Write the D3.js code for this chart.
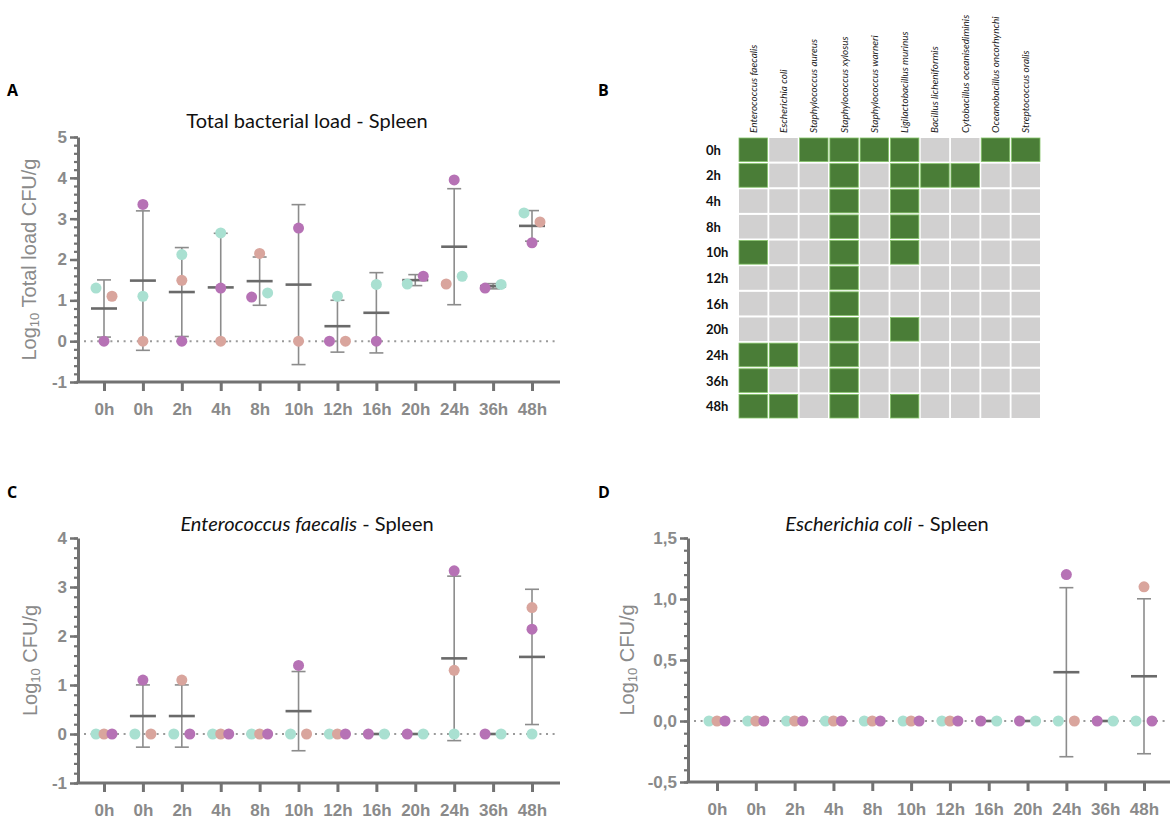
<!DOCTYPE html>
<html>
<head>
<meta charset="utf-8">
<script src="https://cdn.jsdelivr.net/npm/d3@7"></script>
<style>
  body { margin: 0; background: #fff; }
</style>
</head>
<body>
<script>
// x categories shared by the three dot plots
var timeLabels = ["0h", "0h", "2h", "4h", "8h", "10h", "12h", "16h", "20h", "24h", "36h", "48h"];

// each category: points as [group, log10 value], listed left to right
var totalLoad = [
  [["teal", 1.3], ["purple", 0], ["salmon", 1.1]],
  [["teal", 1.1], ["salmon", 0], ["purple", 3.35]],
  [["teal", 2.12], ["salmon", 1.49], ["purple", 0]],
  [["teal", 2.65], ["purple", 1.3], ["salmon", 0]],
  [["purple", 1.08], ["salmon", 2.15], ["teal", 1.18]],
  [["purple", 2.77], ["salmon", 0]],
  [["purple", 0], ["teal", 1.1], ["salmon", 0]],
  [["teal", 1.39], ["purple", 0]],
  [["teal", 1.4], ["purple", 1.59]],
  [["salmon", 1.4], ["purple", 3.95], ["teal", 1.59]],
  [["purple", 1.3], ["teal", 1.39]],
  [["teal", 3.14], ["purple", 2.41], ["salmon", 2.92]]
];

var faecalis = [
  [["teal", 0], ["salmon", 0], ["purple", 0]],
  [["teal", 0], ["purple", 1.1], ["salmon", 0]],
  [["teal", 0], ["salmon", 1.1], ["purple", 0]],
  [["teal", 0], ["salmon", 0], ["purple", 0]],
  [["teal", 0], ["salmon", 0], ["purple", 0]],
  [["teal", 0], ["purple", 1.4], ["salmon", 0]],
  [["teal", 0], ["salmon", 0], ["purple", 0]],
  [["purple", 0], ["teal", 0]],
  [["purple", 0], ["teal", 0]],
  [["teal", 0], ["salmon", 1.3], ["purple", 3.33]],
  [["purple", 0], ["teal", 0]],
  [["teal", 0], ["purple", 2.14], ["salmon", 2.58]]
];

var coli = [
  [["teal", 0], ["salmon", 0], ["purple", 0]],
  [["teal", 0], ["salmon", 0], ["purple", 0]],
  [["teal", 0], ["salmon", 0], ["purple", 0]],
  [["teal", 0], ["salmon", 0], ["purple", 0]],
  [["teal", 0], ["salmon", 0], ["purple", 0]],
  [["teal", 0], ["salmon", 0], ["purple", 0]],
  [["teal", 0], ["salmon", 0], ["purple", 0]],
  [["purple", 0], ["teal", 0]],
  [["purple", 0], ["teal", 0]],
  [["teal", 0], ["purple", 1.2], ["salmon", 0]],
  [["purple", 0], ["teal", 0]],
  [["teal", 0], ["salmon", 1.1], ["purple", 0]]
];

// heatmap (panel B)
var species = ["Enterococcus faecalis", "Escherichia coli", "Staphylococcus aureus",
  "Staphylococcus xylosus", "Staphylococcus warneri", "Ligilactobacillus murinus",
  "Bacillus licheniformis", "Cytobacillus oceanisediminis", "Oceanobacillus oncorhynchi",
  "Streptococcus oralis"];
var heatRows = ["0h", "2h", "4h", "8h", "10h", "12h", "16h", "20h", "24h", "36h", "48h"];
var presence = [
  [1, 0, 1, 1, 1, 1, 0, 0, 1, 1],
  [1, 0, 0, 1, 0, 1, 1, 1, 0, 0],
  [0, 0, 0, 1, 0, 1, 0, 0, 0, 0],
  [0, 0, 0, 1, 0, 1, 0, 0, 0, 0],
  [1, 0, 0, 1, 0, 1, 0, 0, 0, 0],
  [0, 0, 0, 1, 0, 0, 0, 0, 0, 0],
  [0, 0, 0, 1, 0, 0, 0, 0, 0, 0],
  [0, 0, 0, 1, 0, 1, 0, 0, 0, 0],
  [1, 1, 0, 1, 0, 0, 0, 0, 0, 0],
  [1, 0, 0, 1, 0, 0, 0, 0, 0, 0],
  [1, 1, 0, 1, 0, 1, 0, 0, 0, 0]
];

var dotColor = { teal: "#a9e0d1", salmon: "#d9a59d", purple: "#b672b5" };
var axisGrey = "#727272";
var labelGrey = "#8a8a8a";

var svg = d3.select("body").append("svg")
  .attr("width", 1172)
  .attr("height", 826);

// panel letters
[["A", 7, 96], ["B", 598, 96], ["C", 7, 498], ["D", 598, 498]].forEach(function(p) {
  svg.append("text").attr("x", p[1]).attr("y", p[2])
    .style("font-family", "'Open Sans', sans-serif").style("font-weight", 700)
    .style("font-size", "16px").text(p[0]);
});

function drawDotPanel(opt) {
  var g = svg.append("g");
  var x = d3.scalePoint().domain(d3.range(timeLabels.length)).range(opt.xRange);
  var y = d3.scaleLinear().domain(opt.yDomain).range(opt.yRange);
  var bottom = opt.yRange[0];

  // title
  var title = g.append("text")
    .attr("x", opt.titleX).attr("y", opt.titleY)
    .attr("text-anchor", "middle")
    .style("font-family", "Lato, sans-serif").style("font-size", "20px").style("fill", "#111");
  opt.title.forEach(function(part) {
    title.append("tspan").style("font-style", part[1] ? "italic" : "normal").text(part[0]);
  });

  // y axis label
  var yl = g.append("text")
    .attr("transform", "translate(" + opt.yLabelX + "," + ((opt.yRange[0] + opt.yRange[1]) / 2) + ") rotate(-90)")
    .attr("text-anchor", "middle")
    .attr("dominant-baseline", "central")
    .style("font-family", "'Liberation Sans', Arial, sans-serif")
    .style("font-size", "20px").style("fill", labelGrey);
  yl.append("tspan").text("Log");
  yl.append("tspan").attr("dy", 5).style("font-size", "13px").text("10");
  yl.append("tspan").attr("dy", -5).text(" " + opt.yLabel);

  // dotted zero line
  g.append("line")
    .attr("x1", opt.left + 6).attr("x2", opt.right - 4)
    .attr("y1", y(0)).attr("y2", y(0))
    .attr("stroke", "#9a9a9a").attr("stroke-width", 2)
    .attr("stroke-dasharray", "2,4.6");

  // minor + major y ticks
  g.append("g").attr("transform", "translate(" + opt.left + ",0)")
    .call(d3.axisLeft(y).tickValues(opt.minorTicks).tickSize(4).tickSizeOuter(0).tickFormat(""))
    .call(function(a) { a.select(".domain").remove(); })
    .selectAll("line").attr("stroke", axisGrey).attr("stroke-width", 2.2);

  var yAxis = g.append("g").attr("transform", "translate(" + opt.left + ",0)")
    .call(d3.axisLeft(y).tickValues(opt.majorTicks).tickSize(8).tickSizeOuter(0)
      .tickPadding(3).tickFormat(opt.format));
  yAxis.select(".domain").attr("stroke", axisGrey).attr("stroke-width", 3);
  yAxis.selectAll(".tick line").attr("stroke", axisGrey).attr("stroke-width", 2.5);
  yAxis.selectAll("text")
    .style("font-family", "'Liberation Sans', Arial, sans-serif")
    .style("font-size", "17px").style("font-weight", 700).style("fill", labelGrey);

  // x axis
  g.append("line")
    .attr("x1", opt.left - 1.5).attr("x2", opt.right)
    .attr("y1", bottom).attr("y2", bottom)
    .attr("stroke", axisGrey).attr("stroke-width", 3);
  var xAxis = g.append("g").attr("transform", "translate(0," + bottom + ")")
    .call(d3.axisBottom(x).tickSize(9).tickSizeOuter(0).tickPadding(12)
      .tickFormat(function(i) { return timeLabels[i]; }));
  xAxis.select(".domain").remove();
  xAxis.selectAll(".tick line").attr("stroke", axisGrey).attr("stroke-width", 3);
  xAxis.selectAll("text")
    .style("font-family", "'Liberation Sans', Arial, sans-serif")
    .style("font-size", "17px").style("font-weight", 700).style("fill", labelGrey);

  opt.data.forEach(function(points, i) {
    var cx = x(i);
    var vals = points.map(function(p) { return p[1]; });
    var m = d3.mean(vals);
    var sd = vals.length > 1 ? d3.deviation(vals) : 0;

    // error bar (mean ± SD)
    g.append("line").attr("x1", cx).attr("x2", cx)
      .attr("y1", y(m - sd)).attr("y2", y(m + sd))
      .attr("stroke", "#8c8c8c").attr("stroke-width", 1.6);
    [m - sd, m + sd].forEach(function(v) {
      g.append("line").attr("x1", cx - 7).attr("x2", cx + 7)
        .attr("y1", y(v)).attr("y2", y(v))
        .attr("stroke", "#8c8c8c").attr("stroke-width", 1.6);
    });
    g.append("line").attr("x1", cx - 13).attr("x2", cx + 13)
      .attr("y1", y(m)).attr("y2", y(m))
      .attr("stroke", "#6a6a6a").attr("stroke-width", 2.6);

    // spread points that would overlap vertically (in listed order)
    var py = vals.map(function(v) { return y(v); });
    var grp = points.map(function(_, k) { return k; });
    for (var a = 0; a < points.length; a++) {
      for (var b = a + 1; b < points.length; b++) {
        if (Math.abs(py[a] - py[b]) < 12) {
          var from = grp[b], to = grp[a];
          grp = grp.map(function(c) { return c === from ? to : c; });
        }
      }
    }
    points.forEach(function(p, k) {
      var members = grp.map(function(c, j) { return c === grp[k] ? j : -1; })
        .filter(function(j) { return j >= 0; });
      var n = members.length;
      var pos = members.indexOf(k);
      var off = n === 1 ? 0 : -8 + 16 * pos / (n - 1);
      g.append("circle")
        .attr("cx", cx + off).attr("cy", py[k]).attr("r", 5.5)
        .attr("fill", dotColor[p[0]]);
    });
  });
}

function minorRange(lo, hi, step) {
  return d3.range(Math.round((hi - lo) / step) + 1).map(function(k) { return lo + k * step; });
}

drawDotPanel({
  data: totalLoad,
  xRange: [104, 532], left: 78, right: 560,
  yDomain: [-1, 5], yRange: [382, 137],
  majorTicks: [-1, 0, 1, 2, 3, 4, 5],
  minorTicks: minorRange(-1, 5, 0.2),
  format: function(v) { return String(v); },
  title: [["Total bacterial load - Spleen", false]],
  titleX: 307, titleY: 128,
  yLabel: "Total load CFU/g", yLabelX: 29
});

drawDotPanel({
  data: faecalis,
  xRange: [104, 532], left: 78, right: 560,
  yDomain: [-1, 4], yRange: [783, 538],
  majorTicks: [-1, 0, 1, 2, 3, 4],
  minorTicks: minorRange(-1, 4, 0.2),
  format: function(v) { return String(v); },
  title: [["Enterococcus faecalis", true], [" - Spleen", false]],
  titleX: 307, titleY: 531,
  yLabel: "CFU/g", yLabelX: 30
});

drawDotPanel({
  data: coli,
  xRange: [717, 1144], left: 688, right: 1170,
  yDomain: [-0.5, 1.5], yRange: [782, 538],
  majorTicks: [-0.5, 0, 0.5, 1, 1.5],
  minorTicks: minorRange(-0.5, 1.5, 0.1),
  format: function(v) { return v.toFixed(1).replace(".", ","); },
  title: [["Escherichia coli", true], [" - Spleen", false]],
  titleX: 887, titleY: 531,
  yLabel: "CFU/g", yLabelX: 627
});

// panel B heatmap
var hx = d3.scaleBand().domain(species).range([739, 1040]).paddingInner(0.06);
var hy = d3.scaleBand().domain(heatRows).range([138, 418]).paddingInner(0.08);
var heat = svg.append("g");

presence.forEach(function(row, r) {
  row.forEach(function(v, c) {
    heat.append("rect")
      .attr("x", hx(species[c])).attr("y", hy(heatRows[r]))
      .attr("width", hx.bandwidth()).attr("height", hy.bandwidth())
      .attr("fill", v ? "#4a7d37" : "#d1d0d0")
      .attr("stroke", v ? "#86c46a" : "none").attr("stroke-width", 0.8);
  });
});

heat.selectAll(".colhead").data(species).enter().append("text")
  .attr("transform", function(d) {
    return "translate(" + (hx(d) + hx.bandwidth() / 2 + 3.5) + ",133) rotate(-90)";
  })
  .style("font-family", "Lato, sans-serif").style("font-style", "italic")
  .style("font-size", "10px").style("fill", "#222")
  .text(function(d) { return d; });

heat.selectAll(".rowhead").data(heatRows).enter().append("text")
  .attr("x", 706).attr("y", function(d) { return hy(d) + hy.bandwidth() / 2; })
  .attr("dominant-baseline", "central")
  .style("font-family", "Lato, sans-serif").style("font-weight", 700)
  .style("font-size", "13px").style("fill", "#111")
  .text(function(d) { return d; });
</script>
</body>
</html>
